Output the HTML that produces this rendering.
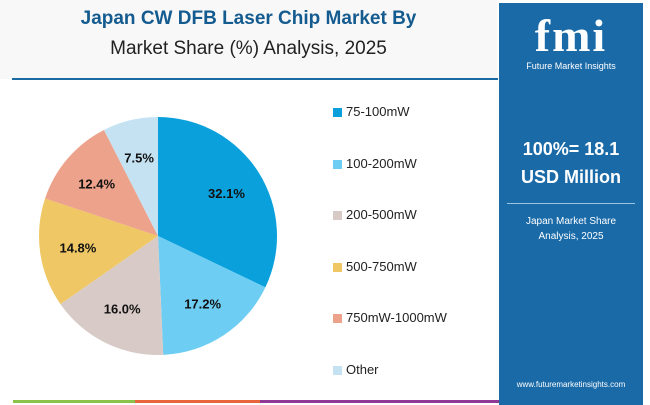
<!DOCTYPE html>
<html><head><meta charset="utf-8"><style>
body{margin:0;width:650px;height:405px;overflow:hidden;background:#fff;font-family:"Liberation Sans",sans-serif;position:relative}
.hdr{position:absolute;left:0;top:0;width:497px;height:79px;background:#f8f8f8}
.t1{position:absolute;left:0;width:497px;top:8px;text-align:center;font-weight:bold;font-size:19px;color:#145b8f}
.t2{position:absolute;left:0;width:497px;top:38px;text-align:center;font-size:19px;color:#222}
.rule{position:absolute;left:12px;top:78px;width:486px;height:2px;background:#1a6aa6}
.panel{position:absolute;left:499px;top:3px;width:144px;height:402px;background:#1a6aa8;color:#fff;text-align:center}
.leg{position:absolute;left:333px;font-size:13px;color:#222}
.leg span{display:inline-block;width:9px;height:9px;margin-right:4px;vertical-align:-1px}
</style></head><body>
<div class="hdr"></div>
<div class="t1">Japan CW DFB Laser Chip Market By</div>
<div class="t2">Market Share (%) Analysis, 2025</div>
<div class="rule"></div>
<svg id="pie" width="330" height="300" style="position:absolute;left:0;top:90px"></svg>
<div id="legend"></div>
<div class="panel">
 <div style="font-family:'Liberation Serif',serif;font-weight:bold;font-size:46px;letter-spacing:2px;margin-top:10px;line-height:46px">fmi</div>
 <div style="font-size:9px;margin-top:2px">Future Market Insights</div>
 <div style="font-weight:bold;font-size:18px;margin-top:64px;line-height:28px">100%= 18.1<br>USD Million</div>
 <div style="width:128px;height:1px;background:#9cc3e2;margin:12px auto 10px"></div>
 <div style="font-size:10px;line-height:15px">Japan Market Share<br>Analysis, 2025</div>
 <div style="position:absolute;bottom:16px;width:100%;font-size:8px">www.futuremarketinsights.com</div>
</div>
<div style="position:absolute;left:13px;top:400px;width:122px;height:3px;background:#8bc34a"></div>
<div style="position:absolute;left:135px;top:400px;width:125px;height:3px;background:#e8643a"></div>
<div style="position:absolute;left:260px;top:400px;width:239px;height:3px;background:#8e3a96"></div>
<script>
const categories=["75-100mW","100-200mW","200-500mW","500-750mW","750mW-1000mW","Other"];
const shares=[32.1,17.2,16.0,14.8,12.4,7.5];
const labels=["32.1%","17.2%","16.0%","14.8%","12.4%","7.5%"];
const colors=["#0aa0dc","#6dcdf3","#d8cbc7","#efc865","#eda28b","#c5e2f3"];
const svg=document.getElementById('pie');
const NS="http://www.w3.org/2000/svg";
const cx=158,cy=146,r=119;
const total=shares.reduce((a,b)=>a+b,0);
let a0=0;
shares.forEach((v,i)=>{
 const a1=a0+v/total*2*Math.PI;
 const x0=cx+r*Math.sin(a0),y0=cy-r*Math.cos(a0),x1=cx+r*Math.sin(a1),y1=cy-r*Math.cos(a1);
 const p=document.createElementNS(NS,'path');
 p.setAttribute('d',`M${cx},${cy}L${x0},${y0}A${r},${r} 0 ${a1-a0>Math.PI?1:0} 1 ${x1},${y1}Z`);
 p.setAttribute('fill',colors[i]);
 
 
 svg.appendChild(p);
 const m=(a0+a1)/2,lr=r*0.68;
 const t=document.createElementNS(NS,'text');
 t.setAttribute('x',cx+lr*Math.sin(m));t.setAttribute('y',cy-lr*Math.cos(m)+5);
 t.setAttribute('text-anchor','middle');t.setAttribute('font-size','13');t.setAttribute('font-weight','bold');
 t.setAttribute('font-family','Liberation Sans, sans-serif');t.setAttribute('fill','#111');
 t.textContent=labels[i];
 
 
 svg.appendChild(t);
 a0=a1;
});
const lg=document.getElementById('legend');
categories.forEach((c,i)=>{
 const d=document.createElement('div');d.className='leg';d.style.top=(104+i*51.6)+'px';
 d.innerHTML=`<span style="background:${colors[i]}"></span>${c}`;
 
 
 lg.appendChild(d);
});
</script>
</body></html>
